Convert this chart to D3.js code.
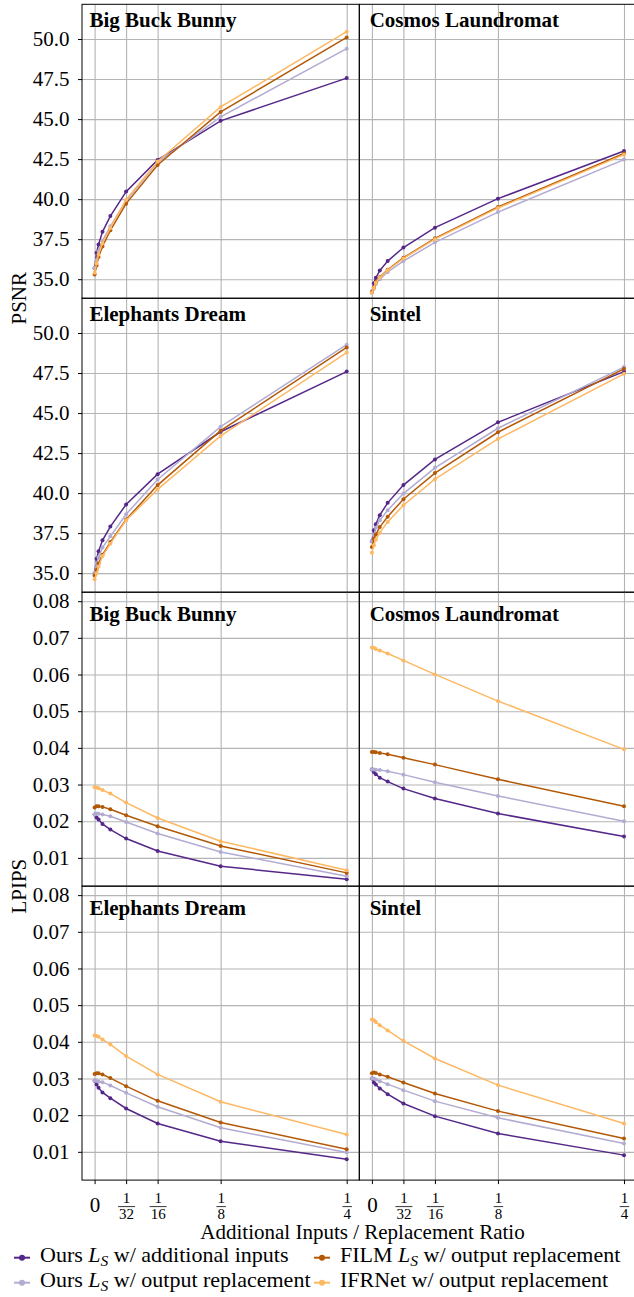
<!DOCTYPE html>
<html>
<head>
<meta charset="utf-8">
<script src="https://cdn.jsdelivr.net/npm/d3@7"></script>
<style>
  body { margin: 0; background: #fff; }
  svg { display: block; font-family: "Liberation Serif", "Times New Roman", serif; }
</style>
</head>
<body>
<script>
// ---- data ----
var ratios = [0, 1/512, 1/256, 1/128, 1/64, 1/32, 1/16, 1/8, 1/4];
var xTicks = [0, 1/32, 1/16, 1/8, 1/4];
var xTickLabels = [["0"], ["1", "32"], ["1", "16"], ["1", "8"], ["1", "4"]];
var psnrTicks = [35, 37.5, 40, 42.5, 45, 47.5, 50];
var lpipsTicks = [0.01, 0.02, 0.03, 0.04, 0.05, 0.06, 0.07, 0.08];
var videos = ["Big Buck Bunny", "Cosmos Laundromat", "Elephants Dream", "Sintel"];

var methodPrefix = ["Ours", "Ours", "FILM", "IFRNet"];
var methodHasLoss = [true, true, true, false];
var methodSuffix = ["w/ additional inputs", "w/ output replacement", "w/ output replacement", "w/ output replacement"];
var methodColors = ["#542788", "#b2abd2", "#b35806", "#fdb863"];

// each: [ours additional, ours replacement, FILM replacement, IFRNet replacement]
var psnrBigBuckBunny = [
  [35.69, 36.65, 37.17, 37.96, 38.94, 40.47, 42.45, 44.89, 47.56],
  [35.69, 36.20, 36.75, 37.40, 38.30, 39.90, 42.30, 45.14, 49.40],
  [35.29, 35.86, 36.38, 37.05, 38.05, 39.72, 42.13, 45.45, 50.10],
  [35.40, 36.00, 36.55, 37.25, 38.20, 39.97, 42.35, 45.76, 50.46]
];
var psnrCosmosLaundromat = [
  [34.20, 34.75, 35.09, 35.54, 36.13, 36.98, 38.22, 40.03, 43.01],
  [34.15, 34.40, 34.70, 35.00, 35.45, 36.13, 37.30, 39.19, 42.47],
  [34.20, 34.50, 34.81, 35.13, 35.59, 36.34, 37.55, 39.51, 42.85],
  [34.15, 34.47, 34.78, 35.10, 35.56, 36.30, 37.50, 39.45, 42.78]
];
var psnrElephantsDream = [
  [35.00, 35.90, 36.36, 37.05, 37.91, 39.29, 41.18, 43.83, 47.59],
  [35.00, 35.60, 36.00, 36.60, 37.30, 38.68, 40.85, 44.15, 49.27],
  [34.85, 35.20, 35.60, 36.15, 36.94, 38.35, 40.50, 43.90, 49.10],
  [34.62, 35.00, 35.40, 36.07, 36.84, 38.30, 40.23, 43.57, 48.78]
];
var psnrSintel = [
  [37.00, 37.68, 38.05, 38.62, 39.39, 40.50, 42.10, 44.42, 47.59],
  [37.00, 37.40, 37.84, 38.30, 38.93, 39.97, 41.58, 44.05, 47.87],
  [36.63, 37.15, 37.42, 37.88, 38.53, 39.62, 41.25, 43.80, 47.76],
  [36.28, 36.74, 37.09, 37.53, 38.20, 39.24, 40.87, 43.38, 47.45]
];
var lpipsBigBuckBunny = [
  [0.0218, 0.0210, 0.02045, 0.01925, 0.01773, 0.01527, 0.01190, 0.00773, 0.00419],
  [0.02181, 0.02209, 0.0220, 0.02181, 0.02135, 0.01980, 0.01664, 0.01163, 0.00501],
  [0.02372, 0.02408, 0.0241, 0.0239, 0.02326, 0.02163, 0.01863, 0.01326, 0.00591],
  [0.02925, 0.0292, 0.0290, 0.02852, 0.02753, 0.02508, 0.02089, 0.01454, 0.00664]
];
var lpipsCosmosLaundromat = [
  [0.0341, 0.03342, 0.03279, 0.03188, 0.0308, 0.02889, 0.02617, 0.02209, 0.01582],
  [0.03415, 0.0341, 0.0340, 0.03397, 0.03361, 0.0327, 0.03062, 0.0269, 0.0200],
  [0.03887, 0.0389, 0.0388, 0.0386, 0.03824, 0.03733, 0.03543, 0.03143, 0.02408],
  [0.06739, 0.0673, 0.06693, 0.06657, 0.06575, 0.06385, 0.06003, 0.05276, 0.0396]
];
var lpipsElephantsDream = [
  [0.0294, 0.02838, 0.02745, 0.0262, 0.02464, 0.02182, 0.01774, 0.01291, 0.0080],
  [0.02937, 0.0294, 0.0292, 0.0290, 0.0281, 0.02609, 0.02228, 0.01655, 0.00983],
  [0.03119, 0.03146, 0.0314, 0.0311, 0.0301, 0.02791, 0.02391, 0.01801, 0.01073],
  [0.04174, 0.0416, 0.04136, 0.04064, 0.03929, 0.0361, 0.0311, 0.02364, 0.01474]
];
var lpipsSintel = [
  [0.0300, 0.02892, 0.02838, 0.02729, 0.02573, 0.02318, 0.01973, 0.01501, 0.0091],
  [0.0300, 0.0300, 0.0297, 0.02928, 0.02846, 0.02682, 0.02382, 0.01927, 0.01229],
  [0.03146, 0.0316, 0.0315, 0.0311, 0.03046, 0.02892, 0.02592, 0.0211, 0.01365],
  [0.0461, 0.0459, 0.04537, 0.04455, 0.0431, 0.04028, 0.03546, 0.02819, 0.01774]
];

// ---- layout ----
var width = 634, height = 1297;
var serif = "'Liberation Serif', 'Times New Roman', serif";
var colLeft = [82, 359.3], panelW = 277.3;
var firstTop = 4.3, panelH = 293.95;
var titleDx = [7.4, 10.4];

var svg = d3.select("body").append("svg")
  .attr("width", width)
  .attr("height", height);

var x = d3.scaleLinear().domain([-0.0125, 0.2625]).range([0, panelW]);
var yPsnr = d3.scaleLinear().domain([33.81, 52.17]).range([panelH, 0]);
var yLpips = d3.scaleLinear().domain([0.00229, 0.08245]).range([panelH, 0]);

var panels = [
  { row: 0, col: 0, title: videos[0], data: psnrBigBuckBunny, y: yPsnr, ticks: psnrTicks, fmt: d3.format(".1f"), titleY: 22.4 },
  { row: 0, col: 1, title: videos[1], data: psnrCosmosLaundromat, y: yPsnr, ticks: psnrTicks, fmt: d3.format(".1f"), titleY: 22.4 },
  { row: 1, col: 0, title: videos[2], data: psnrElephantsDream, y: yPsnr, ticks: psnrTicks, fmt: d3.format(".1f"), titleY: 22.4 },
  { row: 1, col: 1, title: videos[3], data: psnrSintel, y: yPsnr, ticks: psnrTicks, fmt: d3.format(".1f"), titleY: 22.4 },
  { row: 2, col: 0, title: videos[0], data: lpipsBigBuckBunny, y: yLpips, ticks: lpipsTicks, fmt: d3.format(".2f"), titleY: 28.7 },
  { row: 2, col: 1, title: videos[1], data: lpipsCosmosLaundromat, y: yLpips, ticks: lpipsTicks, fmt: d3.format(".2f"), titleY: 28.7 },
  { row: 3, col: 0, title: videos[2], data: lpipsElephantsDream, y: yLpips, ticks: lpipsTicks, fmt: d3.format(".2f"), titleY: 28.7 },
  { row: 3, col: 1, title: videos[3], data: lpipsSintel, y: yLpips, ticks: lpipsTicks, fmt: d3.format(".2f"), titleY: 28.7 }
];

panels.forEach(function(p) {
  var g = svg.append("g")
    .attr("transform", "translate(" + colLeft[p.col] + "," + (firstTop + p.row * panelH) + ")");

  // grid
  g.append("g")
    .call(d3.axisLeft(p.y).tickValues(p.ticks).tickSize(-panelW).tickFormat(""))
    .call(function(a) { a.select(".domain").remove(); })
    .selectAll("line").attr("stroke", "#b4b4b4").attr("stroke-width", 1.1);
  g.append("g")
    .attr("transform", "translate(0," + panelH + ")")
    .call(d3.axisBottom(x).tickValues(xTicks).tickSize(-panelH).tickFormat(""))
    .call(function(a) { a.select(".domain").remove(); })
    .selectAll("line").attr("stroke", "#b4b4b4").attr("stroke-width", 1.1);

  // y tick labels only on the left column
  if (p.col === 0) {
    var ya = g.append("g")
      .call(d3.axisLeft(p.y).tickValues(p.ticks).tickSize(4).tickPadding(8.5).tickFormat(p.fmt))
      .attr("font-family", serif).attr("font-size", 21);
    ya.select(".domain").remove();
    ya.selectAll("line").attr("stroke", "#000");
    ya.selectAll("text").attr("fill", "#000");
  }

  // x ticks with fraction labels on the bottom row
  if (p.row === 3) {
    var xa = g.append("g")
      .attr("transform", "translate(0," + panelH + ")")
      .call(d3.axisBottom(x).tickValues(xTicks).tickSize(4).tickFormat(""))
      .attr("font-family", serif);
    xa.select(".domain").remove();
    xa.selectAll("line").attr("stroke", "#000");
    xa.selectAll(".tick").each(function(d, i) {
      var t = d3.select(this);
      var lab = xTickLabels[i];
      if (lab.length === 1) {
        t.append("text").attr("y", 31.5).attr("text-anchor", "middle")
          .attr("font-size", 21).attr("fill", "#000").text(lab[0]);
      } else {
        t.append("text").attr("y", 22.5).attr("text-anchor", "middle")
          .attr("font-size", 15).attr("fill", "#000").text(lab[0]);
        var bw = lab[1].length * 7.5 + 2;
        t.append("line").attr("x1", -bw / 2).attr("x2", bw / 2)
          .attr("y1", 26.5).attr("y2", 26.5).attr("stroke", "#000").attr("stroke-width", 0.8);
        t.append("text").attr("y", 38.5).attr("text-anchor", "middle")
          .attr("font-size", 15).attr("fill", "#000").text(lab[1]);
      }
    });
  }

  // series
  var line = d3.line()
    .x(function(d, i) { return x(ratios[i]); })
    .y(function(d) { return p.y(d); });
  p.data.forEach(function(series, k) {
    g.append("path")
      .datum(series)
      .attr("d", line)
      .attr("fill", "none")
      .attr("stroke", methodColors[k])
      .attr("stroke-width", 1.5);
    g.selectAll(null)
      .data(series)
      .enter().append("circle")
      .attr("cx", function(d, i) { return x(ratios[i]); })
      .attr("cy", function(d) { return p.y(d); })
      .attr("r", 2)
      .attr("fill", methodColors[k]);
  });

  // frame
  g.append("rect")
    .attr("width", panelW).attr("height", panelH)
    .attr("fill", "none").attr("stroke", "#000").attr("stroke-width", 1);

  g.append("text")
    .attr("x", titleDx[p.col]).attr("y", p.titleY)
    .attr("font-size", 21).attr("font-weight", "bold").attr("fill", "#000")
    .text(p.title);
});

// y axis labels
svg.append("text")
  .attr("transform", "translate(25.5," + (firstTop + panelH) + ") rotate(-90)")
  .attr("text-anchor", "middle").attr("font-size", 21).text("PSNR");
svg.append("text")
  .attr("transform", "translate(25.5," + (firstTop + 3 * panelH) + ") rotate(-90)")
  .attr("text-anchor", "middle").attr("font-size", 21).text("LPIPS");

// x axis title
svg.append("text")
  .attr("x", 362.5).attr("y", 1238.5)
  .attr("text-anchor", "middle").attr("font-size", 21)
  .text("Additional Inputs / Replacement Ratio");

// legend (two columns, column-major)
var legendX = [14, 314], legendY = [1257.7, 1282.7];
methodPrefix.forEach(function(name, k) {
  var lx = legendX[Math.floor(k / 2)], ly = legendY[k % 2];
  var lg = svg.append("g").attr("transform", "translate(" + lx + "," + ly + ")");
  lg.append("line").attr("x1", 0).attr("x2", 16).attr("y1", 0).attr("y2", 0)
    .attr("stroke", methodColors[k]).attr("stroke-width", 2);
  lg.append("circle").attr("cx", 8).attr("cy", 0).attr("r", 3).attr("fill", methodColors[k]);
  var t = lg.append("text").attr("x", 26).attr("y", 4.5).attr("font-size", 22).attr("fill", "#000");
  t.append("tspan").text(name + " ");
  if (methodHasLoss[k]) {
    t.append("tspan").attr("font-style", "italic").text("L");
    t.append("tspan").attr("font-style", "italic").attr("font-size", 15.5).attr("dy", 4).text("S");
    t.append("tspan").attr("dy", -4).text(" " + methodSuffix[k]);
  } else {
    t.append("tspan").text(methodSuffix[k]);
  }
});
</script>
</body>
</html>
